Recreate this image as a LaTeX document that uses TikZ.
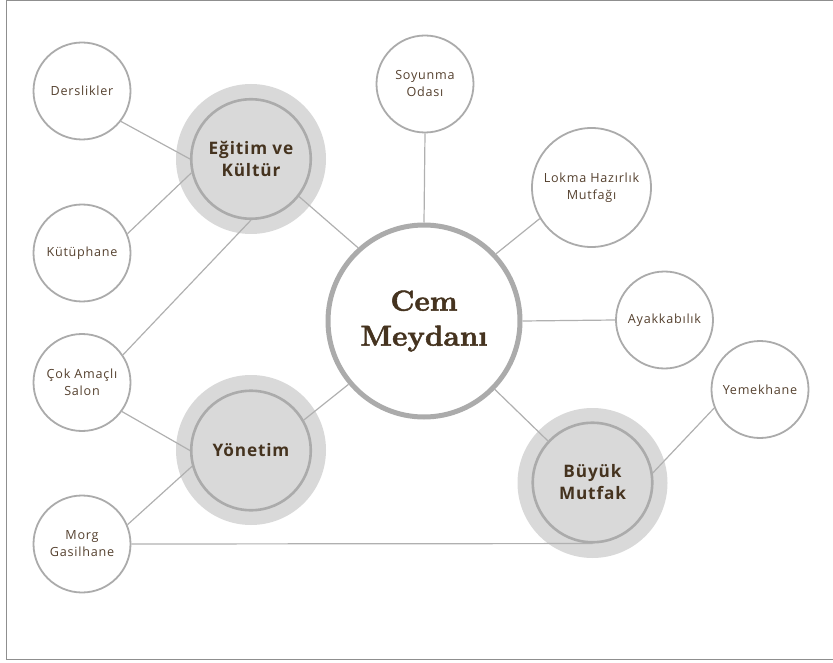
\documentclass[tikz,border=0pt]{standalone}
\usepackage{fontspec}
\newfontfamily\labelfont[LetterSpace=6]{Open Sans}
\newfontfamily\hubfont[LetterSpace=5]{Open Sans}
\newfontfamily\cemfont[FakeBold=1.6]{lmroman10-bold.otf}
\definecolor{ring}{HTML}{ABABAB}
\definecolor{linkgray}{HTML}{B0B0B0}
\definecolor{halo}{HTML}{D9D9D9}
\definecolor{frame}{HTML}{8F8F8F}
\definecolor{hubtext}{HTML}{45331F}
\definecolor{smalltext}{HTML}{55412F}
\tikzset{
  smallnode/.style={circle, draw=ring, line width=1.8pt, fill=white, minimum size=97pt, inner sep=0pt, align=center, text=smalltext, font=\labelfont\fontsize{12.6}{17}\selectfont},
  bignode/.style={smallnode, minimum size=119pt},
  hubnode/.style={circle, draw=ring, line width=2.6pt, fill=halo, minimum size=119.5pt, inner sep=0pt, align=center, text=hubtext, font=\hubfont\bfseries\fontsize{17.2}{22}\selectfont},
  halonode/.style={circle, fill=halo, minimum size=150pt, inner sep=0pt},
  centernode/.style={circle, draw=ring, line width=5pt, fill=white, minimum size=192pt, inner sep=0pt, align=center, text=hubtext, font=\cemfont\fontsize{29}{35}\selectfont},
  link/.style={draw=linkgray, line width=1.2pt},
  framebox/.style={draw=frame, line width=1.6pt},
}
\begin{document}
\begin{tikzpicture}[x=1pt,y=-1pt]
\useasboundingbox (0,0) rectangle (833,663);
% frame (right side lies beyond the picture)
\coordinate (ftr) at (833,0.5);
\coordinate (ftl) at (6.5,0.5);
\coordinate (fbl) at (6.5,659.5);
\coordinate (fbr) at (833,659.5);
\draw[framebox] (ftr) -- (ftl) -- (fbl) -- (fbr);
% halos
\node[halonode] (egitimh) at (251,159) {};
\node[halonode] (yonetimh) at (251,450) {};
\node[halonode] (buyukh) at (592.5,483) {};
% nodes
\node[centernode] (cem) at (424,321) {Cem\\Meydanı};
\node[hubnode] (egitim) at (251,159) {Eğitim ve\\Kültür};
\node[hubnode] (yonetim) at (251,450.5) {Yönetim};
\node[hubnode] (buyuk) at (592.5,482.5) {Büyük\\Mutfak};
\node[smallnode] (dersl) at (82,91) {Derslikler};
\node[smallnode] (kutup) at (82,253) {Kütüphane};
\node[smallnode] (cok) at (82,382.5) {Çok Amaçlı\\Salon};
\node[smallnode] (morg) at (82,544) {Morg\\Gasilhane};
\node[smallnode] (soy) at (425,84) {Soyunma\\Odası};
\node[bignode] (lokma) at (591.5,187.5) {Lokma Hazırlık\\Mutfağı};
\node[smallnode] (ayak) at (664.5,320) {Ayakkabılık};
\node[smallnode] (yemek) at (760,389.5) {Yemekhane};
% links
\draw[link] (dersl.-38) -- (egitim.180);
\draw[link] (kutup.23.5) -- (egitim.193);
\draw[link] (cok.34) -- (egitim.270);
\draw[link] (egitim.-38) -- (cem.132);
\draw[link] (soy.south) -- (cem.north);
\draw[link] (lokma.211) -- (cem.43);
\draw[link] (cem.east) -- (ayak.west);
\draw[link] (cem.-44.5) -- (buyuk.137.5);
\draw[link] (yemek.202.5) -- (buyuk.9);
\draw[link] (morg.east) -- (buyuk.south);
\draw[link] (cok.-36.5) -- (yonetim.180);
\draw[link] (morg.23.5) -- (yonetim.195.5);
\draw[link] (yonetim.30) -- (cem.220);
\end{tikzpicture}
\end{document}
